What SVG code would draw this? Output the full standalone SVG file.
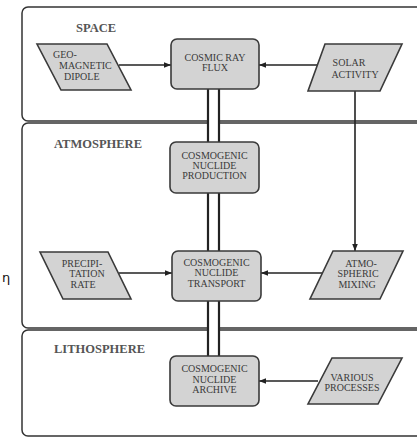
<svg xmlns="http://www.w3.org/2000/svg" width="417" height="438" viewBox="0 0 417 438">
<defs>
<marker id="ah" viewBox="0 0 10 10" refX="10" refY="5" markerWidth="7" markerHeight="7" markerUnits="userSpaceOnUse" orient="auto"><path d="M0,1 L10,5 L0,9 z" fill="#222"/></marker>
<style>
.panel{fill:#fff;stroke:#333;stroke-width:1.5}
.plabel{font-size:12.5px;font-weight:bold;fill:#555}
.box{fill:#d3d3d3;stroke:#3a3a3a;stroke-width:1.6}
.t{font-size:10px;fill:#3a3a3a;text-anchor:middle}
.arr{stroke:#222;stroke-width:1.6;fill:none;marker-end:url(#ah)}
.gap{fill:#fff;stroke:none}
.dl{stroke:#222;stroke-width:2.2;fill:none}
</style>
</defs>
<g font-family="Liberation Serif, DejaVu Serif, serif">
<g id="panels">
<rect class="panel" x="22" y="7" width="420" height="114" rx="6"/>
<rect class="panel" x="22" y="123" width="420" height="205" rx="6"/>
<rect class="panel" x="22" y="330" width="420" height="106" rx="6"/>
<text class="plabel" x="76" y="32">SPACE</text>
<text class="plabel" x="54" y="148">ATMOSPHERE</text>
<text class="plabel" x="54" y="353">LITHOSPHERE</text>
</g>
<g id="connectors">
<rect class="gap" x="209" y="89" width="9" height="267"/>
<path class="dl" d="M208,89 V142 M219,89 V142 M208,193 V251 M219,193 V251 M208,301 V356 M219,301 V356"/>
<path class="arr" d="M119,65 H171"/>
<path class="arr" d="M322,65 H259"/>
<path class="arr" d="M355,91 V251"/>
<path class="arr" d="M119,273 H172"/>
<path class="arr" d="M322,273 H261"/>
<path class="arr" d="M318,381 H259"/>
</g>
<g id="geomagnetic">
<polygon class="box" points="37,44 107,44 131,90 61,90"/>
<text class="t" style="text-anchor:start" x="53" y="58">GEO-</text>
<text class="t" style="text-anchor:start" x="59" y="69">MAGNETIC</text>
<text class="t" style="text-anchor:start" x="64" y="80">DIPOLE</text>
</g>
<g id="cosmicray">
<rect class="box" x="171" y="39" width="88" height="50" rx="6"/>
<text class="t" x="215" y="61">COSMIC RAY</text>
<text class="t" x="215" y="71">FLUX</text>
</g>
<g id="solar">
<polygon class="box" points="325,44 402,44 380,91 308,91"/>
<text class="t" x="349" y="66">SOLAR</text>
<text class="t" x="355" y="78">ACTIVITY</text>
</g>
<g id="production">
<rect class="box" x="170" y="142" width="89" height="51" rx="6"/>
<text class="t" x="214.5" y="159">COSMOGENIC</text>
<text class="t" x="214.5" y="169">NUCLIDE</text>
<text class="t" x="214.5" y="179">PRODUCTION</text>
</g>
<g id="precipitation">
<polygon class="box" points="40,252 108,252 131,299 63,299"/>
<text class="t" x="82" y="267">PRECIPI-</text>
<text class="t" x="87" y="277">TATION</text>
<text class="t" x="83" y="288">RATE</text>
</g>
<g id="transport">
<rect class="box" x="172" y="251" width="89" height="50" rx="6"/>
<text class="t" x="216.5" y="266">COSMOGENIC</text>
<text class="t" x="216.5" y="276">NUCLIDE</text>
<text class="t" x="216.5" y="287">TRANSPORT</text>
</g>
<g id="mixing">
<polygon class="box" points="333,251 403,251 380,299 310,299"/>
<text class="t" x="361" y="267">ATMO-</text>
<text class="t" x="358" y="277">SPHERIC</text>
<text class="t" x="357" y="288">MIXING</text>
</g>
<g id="archive">
<rect class="box" x="170" y="356" width="89" height="50" rx="6"/>
<text class="t" x="214.5" y="372">COSMOGENIC</text>
<text class="t" x="214.5" y="383">NUCLIDE</text>
<text class="t" x="214.5" y="393">ARCHIVE</text>
</g>
<g id="various">
<polygon class="box" points="332,358 402,358 378,404 308,404"/>
<text class="t" x="352" y="381">VARIOUS</text>
<text class="t" x="352" y="391">PROCESSES</text>
</g>
</g>
<text x="2" y="282" font-family="DejaVu Sans, sans-serif" font-size="13" fill="#111">η</text>
</svg>
